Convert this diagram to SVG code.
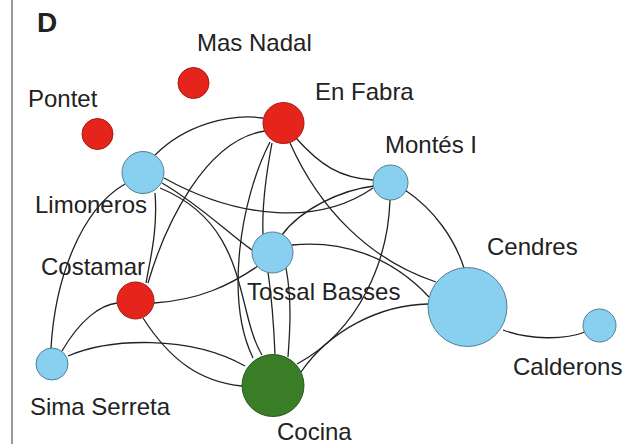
<svg xmlns="http://www.w3.org/2000/svg" width="631" height="444" viewBox="0 0 631 444">
<style>
.e{fill:none;stroke:#222;stroke-width:1.3}
.r{fill:#e5241c;stroke:#a81a12;stroke-width:1}
.b{fill:#89cff0;stroke:#4f7f95;stroke-width:1}
.g{fill:#3a7d27;stroke:#2a5a1c;stroke-width:1}
text{font-family:"Liberation Sans",Arial,sans-serif;font-size:24px;fill:#222}
</style>
<rect width="631" height="444" fill="#fff"/>
<line x1="12" y1="0" x2="12" y2="444" stroke="#777" stroke-width="1.5"/>
<text x="37" y="32" style="font-weight:bold;font-size:28px">D</text>
<g id="edges">
<path class="e" d="M155,155 C185,125 230,113 263,118"/>
<path class="e" d="M125,184 C80,210 55,280 51,348"/>
<path class="e" d="M155,193 C158,230 150,260 146,283"/>
<path class="e" d="M164,178 C240,220 320,225 373,188"/>
<path class="e" d="M162,183 C200,205 230,235 252,250"/>
<path class="e" d="M160,188 C250,225 235,310 262,355"/>
<path class="e" d="M265,131 C205,140 165,225 148,283"/>
<path class="e" d="M272,143 C265,180 262,210 263,234"/>
<path class="e" d="M270,142 C240,200 225,300 253,358"/>
<path class="e" d="M296,138 C320,165 340,178 373,180"/>
<path class="e" d="M290,143 C320,210 370,260 436,282"/>
<path class="e" d="M62,351 C80,320 100,305 117,303"/>
<path class="e" d="M154,303 C200,300 230,285 258,266"/>
<path class="e" d="M143,318 C170,360 200,382 242,386"/>
<path class="e" d="M68,356 C110,338 190,335 245,366"/>
<path class="e" d="M282,235 C300,210 340,190 374,186"/>
<path class="e" d="M292,245 C340,240 390,255 429,297"/>
<path class="e" d="M268,272 C272,300 274,330 275,354"/>
<path class="e" d="M286,268 C292,300 290,330 288,357"/>
<path class="e" d="M405,190 C435,210 455,240 464,268"/>
<path class="e" d="M390,200 C388,260 360,330 297,364"/>
<path class="e" d="M428,304 C380,305 330,330 301,372"/>
<path class="e" d="M503,330 C530,340 565,340 585,332"/>
</g>
<g id="mas-nadal"><circle class="r" cx="193.5" cy="83" r="15.5"/><text x="197" y="51">Mas Nadal</text></g>
<g id="pontet"><circle class="r" cx="97.5" cy="134" r="15.5"/><text x="28" y="107">Pontet</text></g>
<g id="en-fabra"><circle class="r" cx="283.5" cy="123" r="20.5"/><text x="315" y="100">En Fabra</text></g>
<g id="limoneros"><circle class="b" cx="143" cy="172.5" r="21"/><text x="35" y="213">Limoneros</text></g>
<g id="montes-i"><circle class="b" cx="390.5" cy="182.5" r="17.5"/><text x="385" y="153">Montés I</text></g>
<g id="tossal-basses"><circle class="b" cx="272.5" cy="252.5" r="20.5"/><text x="247" y="300">Tossal Basses</text></g>
<g id="costamar"><circle class="r" cx="135.5" cy="300.5" r="18.5"/><text x="41" y="275">Costamar</text></g>
<g id="sima-serreta"><circle class="b" cx="52" cy="364" r="16"/><text x="30" y="415">Sima Serreta</text></g>
<g id="cocina"><circle class="g" cx="273" cy="385.5" r="31"/><text x="277" y="440">Cocina</text></g>
<g id="cendres"><circle class="b" cx="467.5" cy="307" r="39.5"/><text x="487" y="255">Cendres</text></g>
<g id="calderons"><circle class="b" cx="599.5" cy="325.5" r="16.5"/><text x="513" y="375">Calderons</text></g>
</svg>
